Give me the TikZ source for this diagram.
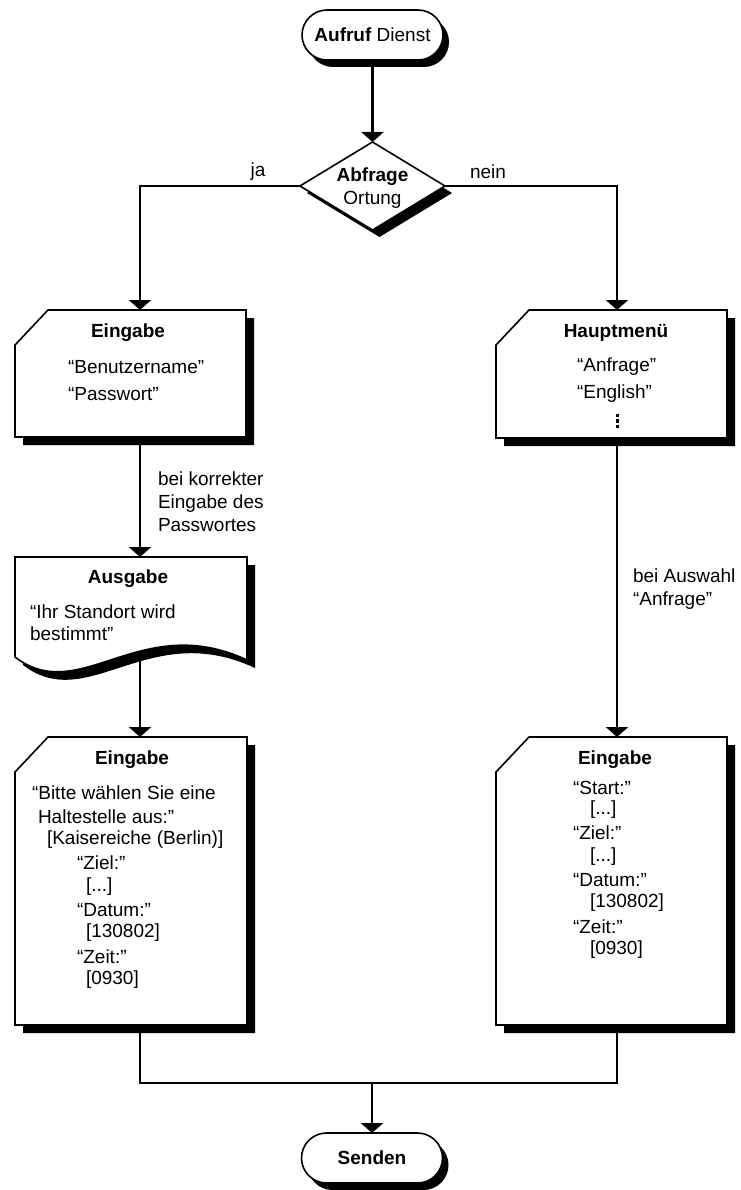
\documentclass[tikz,border=0pt]{standalone}
\usepackage{fontspec}
\setmainfont{Liberation Sans}
\usetikzlibrary{shapes.misc,shapes.geometric,arrows.meta,shadows}

% chamfered box outline of node #1, shifted by (#2,#3)
\newcommand\chamoutline[3]{([xshift=#2,yshift=#3-35pt]#1.north west) -- ([xshift=#2+33pt,yshift=#3]#1.north west) -- ([xshift=#2,yshift=#3]#1.north east) -- ([xshift=#2,yshift=#3]#1.south east) -- ([xshift=#2,yshift=#3]#1.south west) -- cycle}
\newcommand\chambox[1]{%
  \fill[black] \chamoutline{#1}{8pt}{-8pt};
  \draw[boxline,fill=white] \chamoutline{#1}{0pt}{0pt};}
% document (wavy bottom) outline of node #1, shifted by (#2,#3)
\newcommand\docoutline[3]{([xshift=#2,yshift=#3]#1.south west) -- ([xshift=#2,yshift=#3]#1.north west) -- ([xshift=#2,yshift=#3]#1.north east) -- ([xshift=#2,yshift=#3-3pt]#1.south east) .. controls ([xshift=#2+9pt,yshift=#3+47pt]#1.south) and ([xshift=#2-51pt,yshift=#3-50pt]#1.south) .. ([xshift=#2,yshift=#3]#1.south west) -- cycle}

\begin{document}
\begin{tikzpicture}[x=1pt,y=-1pt,
  font=\fontsize{19}{23}\selectfont,
  every node/.style={inner sep=0pt,outer sep=0pt},
  boxline/.style={line width=1.6pt,draw=black},
  conn/.style={line width=2.8pt,-{Triangle[width=22pt,length=10pt]}},
  thinline/.style={line width=1.8pt},
  area/.style={rectangle,draw=none},
  terminal/.style={rounded rectangle,draw,line width=1.6pt,fill=white,minimum width=141pt,minimum height=50pt,
    drop shadow={shadow xshift=6pt,shadow yshift=-7pt,opacity=1,fill=black}},
  decision/.style={diamond,draw,line width=1.6pt,fill=white,minimum width=145pt,minimum height=88pt,
    drop shadow={shadow xshift=7pt,shadow yshift=-7pt,opacity=1,fill=black}},
  head/.style={font=\fontsize{19}{23}\selectfont\bfseries},
  txt/.style={anchor=west},
  lbl/.style={anchor=west,align=left}
]
\useasboundingbox (0,0) rectangle (740,1190);
\fill[white] (0,0) rectangle (740,1190);

\coordinate (colL) at (140,0);
\coordinate (colR) at (617,0);

% node areas
\node[area,minimum width=231pt,minimum height=127pt] (e1) at (130.5,373.5) {};
\node[area,minimum width=231pt,minimum height=128pt] (hm) at (611.5,374) {};
\node[area,minimum width=232pt,minimum height=100pt] (aus) at (131,607) {};
\node[area,minimum width=232pt,minimum height=288pt] (e2) at (131,881) {};
\node[area,minimum width=231pt,minimum height=288pt] (e3) at (611.5,881) {};
\coordinate (merge) at (372,1083);

\node[terminal] (start) at (372.5,35) {};
\node[decision] (dec) at (372.5,186) {};
\node[terminal] (send) at (372,1158) {};

% connectors
\draw[conn] (start.south) -- (dec.north);
\draw[conn] (dec.west) -| (e1.north -| colL);
\draw[conn] (dec.east) -| (hm.north -| colR);
\draw[conn] (e1.south -| colL) -- (aus.north -| colL);
\draw[conn] (aus.south -| colL) -- (e2.north -| colL);
\draw[conn] (hm.south -| colR) -- (e3.north -| colR);
\draw[thinline] (e2.south -| colL) |- (merge) -| (e3.south -| colR);
\draw[conn] (merge) -- (send.north);

\node at (start) {\textbf{Aufruf} Dienst};
\node[align=center] at (372.5,188) {\textbf{Abfrage}\\Ortung};
\node at (send) {\textbf{Senden}};

\node at (258,172) {ja};
\node at (488,172) {nein};

% boxes
\chambox{e1}
\chambox{hm}
\chambox{e2}
\chambox{e3}

% Ausgabe document shape
\fill[black] \docoutline{aus}{8pt}{-8pt};
\draw[boxline,fill=white] \docoutline{aus}{0pt}{0pt};

% texts
\node[head] at (128,333) {Eingabe};
\node[txt] at (68,367) {“Benutzername”};
\node[txt] at (68,394) {“Passwort”};

\node[head] at (616,333) {Hauptmenü};
\node[txt] at (577,367) {“Anfrage”};
\node[txt] at (577,394) {“English”};
\foreach \yy in {415.5,421,426.5} \fill[black] (615.5,\yy-1.6) rectangle (618.7,\yy+1.6);

\node[head] at (128,579) {Ausgabe};
\node[txt] at (30,612) {“Ihr Standort wird};
\node[txt] at (30,634) {bestimmt”};

\node[head] at (132,760) {Eingabe};
\node[txt] at (32,793) {“Bitte wählen Sie eine};
\node[txt] at (38,817) {Haltestelle aus:”};
\node[txt] at (47,840) {[Kaisereiche (Berlin)]};
\node[txt] at (77,863) {“Ziel:”};
\node[txt] at (86,887) {[...]};
\node[txt] at (77,910) {“Datum:”};
\node[txt] at (86,933) {[130802]};
\node[txt] at (77,957) {“Zeit:”};
\node[txt] at (86,980) {[0930]};

\node[head] at (615,760) {Eingabe};
\node[txt] at (573,788) {“Start:”};
\node[txt] at (590,810) {[...]};
\node[txt] at (573,833) {“Ziel:”};
\node[txt] at (590,857) {[...]};
\node[txt] at (573,880) {“Datum:”};
\node[txt] at (590,903) {[130802]};
\node[txt] at (573,927) {“Zeit:”};
\node[txt] at (590,950) {[0930]};

\node[lbl] at (158,502) {bei korrekter\\Eingabe des\\Passwortes};
\node[lbl] at (633,589) {bei Auswahl\\“Anfrage”};
\end{tikzpicture}
\end{document}
